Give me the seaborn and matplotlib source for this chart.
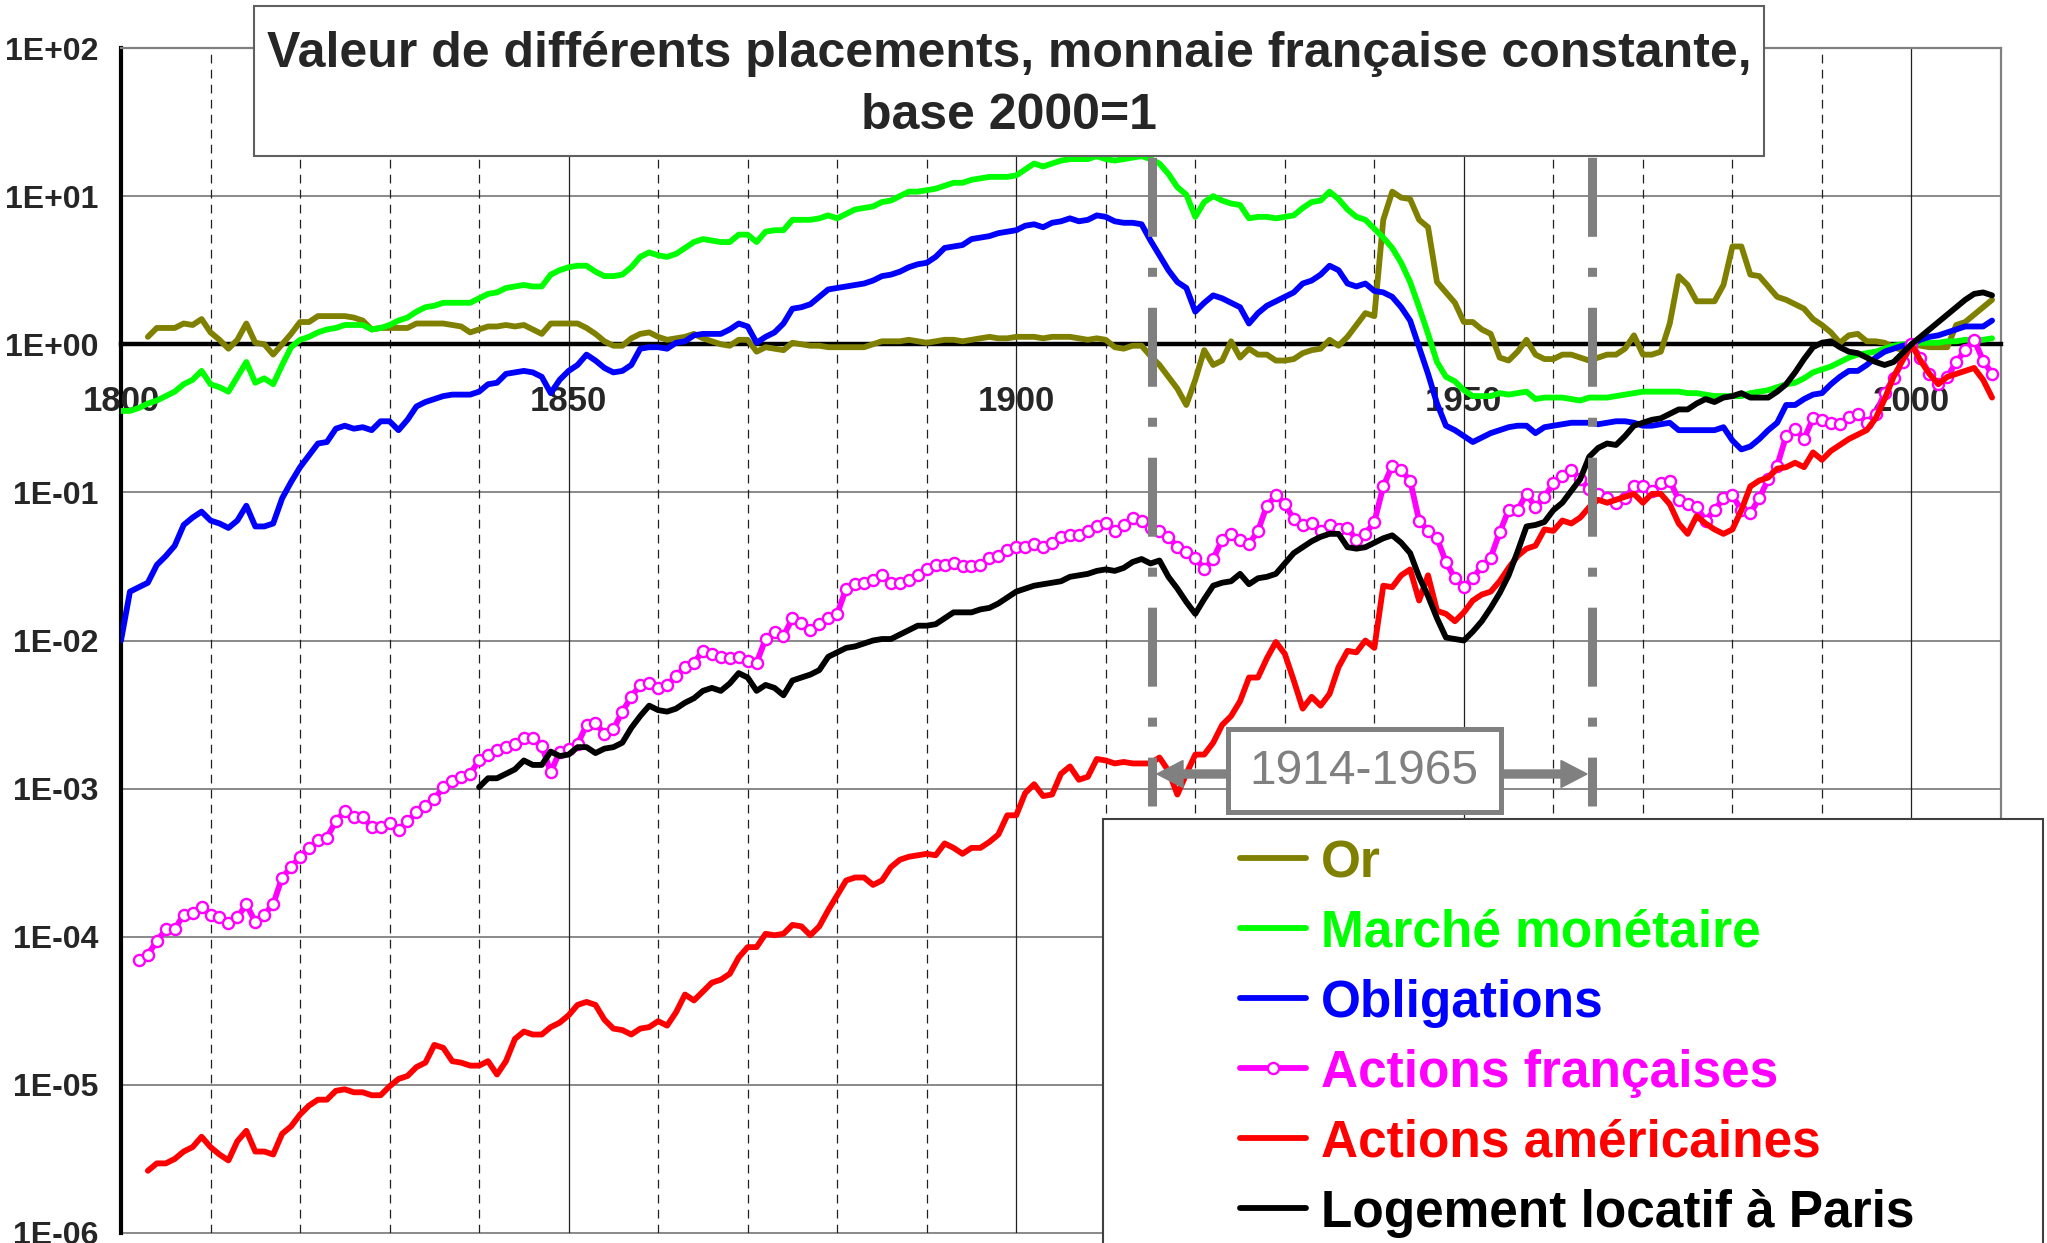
"""
Valeur de différents placements, monnaie française constante, base 2000=1.
Log-scale comparison of six asset classes, 1800-2009.
"""
import numpy as np
import pandas as pd
import matplotlib
matplotlib.use("Agg")
import matplotlib.pyplot as plt
import seaborn as sns
from matplotlib.patches import Rectangle, FancyArrow
from matplotlib.lines import Line2D
from matplotlib.ticker import NullLocator

# ---------------------------------------------------------------------------
# data: one value per year, kept as log10(value)
# (base 2000 = 1  ->  0.00)
# ---------------------------------------------------------------------------
OR_START = 1803
or_log10 = [
    0.05, 0.11, 0.11, 0.11, 0.14, 0.13, 0.17,                          # 1803-09
    0.08, 0.03, -0.03, 0.03, 0.14, 0.01, 0.00, -0.07, 0.00, 0.07,      # 1810s
    0.15, 0.15, 0.19, 0.19, 0.19, 0.19, 0.18, 0.16, 0.10, 0.11,        # 1820s
    0.11, 0.11, 0.11, 0.14, 0.14, 0.14, 0.14, 0.13, 0.12, 0.08,        # 1830s
    0.10, 0.12, 0.12, 0.13, 0.12, 0.13, 0.10, 0.07, 0.14, 0.14,        # 1840s
    0.14, 0.14, 0.11, 0.07, 0.02, -0.01, -0.01, 0.04, 0.07, 0.08,      # 1850s
    0.05, 0.03, 0.04, 0.05, 0.07, 0.04, 0.02, 0.00, -0.01, 0.03,       # 1860s
    0.03, -0.05, -0.02, -0.03, -0.04, 0.01, 0.00, -0.01, -0.01, -0.02, # 1870s
    -0.02, -0.02, -0.02, -0.02, 0.00, 0.02, 0.02, 0.02, 0.03, 0.02,    # 1880s
    0.01, 0.02, 0.03, 0.03, 0.02, 0.03, 0.04, 0.05, 0.04, 0.04,        # 1890s
    0.05, 0.05, 0.05, 0.04, 0.05, 0.05, 0.05, 0.04, 0.03, 0.04,        # 1900s
    0.03, -0.02, -0.03, -0.01, -0.01, -0.08, -0.14, -0.22, -0.30, -0.41,  # 1910s
    -0.24, -0.04, -0.14, -0.11, 0.02, -0.09, -0.03, -0.07, -0.07, -0.11,  # 1920s
    -0.11, -0.10, -0.06, -0.04, -0.03, 0.03, -0.01, 0.05, 0.13, 0.21,  # 1930s
    0.19, 0.84, 1.03, 0.99, 0.98, 0.84, 0.79, 0.42, 0.35, 0.28,        # 1940s
    0.15, 0.15, 0.10, 0.07, -0.09, -0.11, -0.05, 0.03, -0.07, -0.10,   # 1950s
    -0.10, -0.07, -0.07, -0.09, -0.11, -0.09, -0.07, -0.07, -0.03, 0.06,  # 1960s
    -0.07, -0.07, -0.05, 0.14, 0.46, 0.40, 0.29, 0.29, 0.29, 0.40,     # 1970s
    0.66, 0.66, 0.47, 0.46, 0.39, 0.32, 0.30, 0.27, 0.24, 0.17,        # 1980s
    0.13, 0.08, 0.01, 0.06, 0.07, 0.02, 0.02, 0.01, -0.02, -0.04,      # 1990s
    0.00, -0.01, -0.02, -0.02, -0.02, 0.13, 0.15, 0.20, 0.25, 0.30,    # 2000s
]

MM_START = 1800
mm_log10 = [
    -0.45, -0.45, -0.43, -0.40, -0.38, -0.35, -0.32, -0.27, -0.24, -0.18,
    -0.27, -0.29, -0.32, -0.22, -0.12, -0.26, -0.23, -0.27, -0.14, -0.02,
    0.03, 0.05, 0.08, 0.10, 0.11, 0.13, 0.13, 0.13, 0.10, 0.11,
    0.13, 0.16, 0.18, 0.22, 0.25, 0.26, 0.28, 0.28, 0.28, 0.28,
    0.31, 0.34, 0.35, 0.38, 0.39, 0.40, 0.39, 0.39, 0.47, 0.50,
    0.52, 0.53, 0.53, 0.49, 0.46, 0.46, 0.47, 0.52, 0.59, 0.62,
    0.60, 0.59, 0.61, 0.65, 0.69, 0.71, 0.70, 0.69, 0.69, 0.74,
    0.74, 0.69, 0.76, 0.77, 0.77, 0.84, 0.84, 0.84, 0.85, 0.87,
    0.85, 0.88, 0.91, 0.92, 0.93, 0.96, 0.97, 1.00, 1.03, 1.03,
    1.04, 1.05, 1.07, 1.09, 1.09, 1.11, 1.12, 1.13, 1.13, 1.13,
    1.14, 1.18, 1.22, 1.20, 1.22, 1.24, 1.25, 1.25, 1.25, 1.27,
    1.25, 1.24, 1.25, 1.26, 1.27, 1.25, 1.22, 1.15, 1.06, 1.01,
    0.86, 0.96, 1.00, 0.97, 0.95, 0.94, 0.85, 0.86, 0.86, 0.85,
    0.86, 0.87, 0.92, 0.96, 0.97, 1.03, 0.98, 0.91, 0.86, 0.84,
    0.78, 0.72, 0.65, 0.55, 0.42, 0.25, 0.07, -0.12, -0.22, -0.25,
    -0.31, -0.35, -0.35, -0.35, -0.33, -0.34, -0.33, -0.32, -0.37, -0.36,
    -0.36, -0.36, -0.37, -0.38, -0.36, -0.36, -0.36, -0.35, -0.34, -0.33,
    -0.32, -0.32, -0.32, -0.32, -0.32, -0.33, -0.33, -0.34, -0.35, -0.35,
    -0.35, -0.35, -0.33, -0.32, -0.31, -0.29, -0.27, -0.26, -0.23, -0.19,
    -0.17, -0.15, -0.12, -0.09, -0.07, -0.06, -0.05, -0.03, -0.01, 0.00,
    0.00, 0.01, 0.01, 0.01, 0.02, 0.02, 0.03, 0.03, 0.03, 0.04,
]

OBL_START = 1800
obl_log10 = [
    -2.00, -1.67, -1.64, -1.61, -1.49, -1.43, -1.36, -1.22, -1.17, -1.13,
    -1.19, -1.21, -1.24, -1.19, -1.09, -1.23, -1.23, -1.21, -1.04, -0.93,
    -0.83, -0.75, -0.67, -0.66, -0.57, -0.55, -0.57, -0.56, -0.58, -0.52,
    -0.52, -0.58, -0.51, -0.42, -0.39, -0.37, -0.35, -0.34, -0.34, -0.34,
    -0.32, -0.27, -0.26, -0.20, -0.19, -0.18, -0.19, -0.22, -0.33, -0.24,
    -0.18, -0.14, -0.07, -0.11, -0.16, -0.19, -0.18, -0.14, -0.03, -0.02,
    -0.02, -0.03, 0.01, 0.02, 0.06, 0.07, 0.07, 0.07, 0.10, 0.14,
    0.12, 0.01, 0.05, 0.08, 0.14, 0.24, 0.25, 0.27, 0.32, 0.37,
    0.38, 0.39, 0.40, 0.41, 0.43, 0.46, 0.47, 0.49, 0.52, 0.54,
    0.55, 0.59, 0.65, 0.66, 0.67, 0.71, 0.72, 0.73, 0.75, 0.76,
    0.77, 0.80, 0.81, 0.79, 0.82, 0.83, 0.85, 0.83, 0.84, 0.87,
    0.86, 0.83, 0.82, 0.82, 0.81, 0.70, 0.60, 0.50, 0.42, 0.38,
    0.22, 0.28, 0.33, 0.31, 0.28, 0.25, 0.14, 0.21, 0.26, 0.29,
    0.32, 0.35, 0.41, 0.43, 0.47, 0.53, 0.50, 0.41, 0.39, 0.41,
    0.36, 0.35, 0.32, 0.25, 0.16, -0.02, -0.20, -0.40, -0.55, -0.58,
    -0.62, -0.66, -0.63, -0.60, -0.58, -0.56, -0.55, -0.55, -0.60, -0.56,
    -0.55, -0.54, -0.53, -0.53, -0.53, -0.54, -0.53, -0.52, -0.52, -0.53,
    -0.55, -0.55, -0.54, -0.53, -0.58, -0.58, -0.58, -0.58, -0.58, -0.56,
    -0.65, -0.71, -0.69, -0.64, -0.58, -0.53, -0.41, -0.41, -0.37, -0.34,
    -0.33, -0.27, -0.22, -0.18, -0.18, -0.14, -0.09, -0.05, -0.03, -0.01,
    0.00, 0.03, 0.05, 0.06, 0.08, 0.10, 0.12, 0.12, 0.12, 0.16,
]

AF_START = 1802
af_log10 = [
    -4.16, -4.12, -4.03, -3.95, -3.95, -3.85, -3.84, -3.80,            # 1802-09
    -3.85, -3.87, -3.91, -3.87, -3.78, -3.90, -3.85, -3.78, -3.60, -3.53,
    -3.46, -3.40, -3.35, -3.33, -3.22, -3.15, -3.19, -3.19, -3.26, -3.26,
    -3.23, -3.28, -3.22, -3.16, -3.12, -3.07, -2.99, -2.95, -2.92, -2.90,
    -2.81, -2.77, -2.74, -2.72, -2.70, -2.66, -2.66, -2.71, -2.89, -2.75,
    -2.73, -2.70, -2.57, -2.56, -2.63, -2.60, -2.48, -2.38, -2.30, -2.29,
    -2.32, -2.30, -2.24, -2.18, -2.15, -2.07, -2.09, -2.11, -2.12, -2.11,
    -2.14, -2.15, -1.99, -1.94, -1.97, -1.85, -1.88, -1.93, -1.89, -1.85,
    -1.82, -1.65, -1.62, -1.61, -1.59, -1.56, -1.61, -1.61, -1.59, -1.56,
    -1.52, -1.49, -1.49, -1.48, -1.50, -1.50, -1.49, -1.44, -1.43, -1.39,
    -1.37, -1.37, -1.35, -1.37, -1.34, -1.30, -1.29, -1.29, -1.26, -1.23,
    -1.21, -1.26, -1.22, -1.17, -1.19, -1.24, -1.26, -1.30, -1.37, -1.40,
    -1.44, -1.52, -1.45, -1.32, -1.28, -1.32, -1.35, -1.26, -1.09, -1.02,
    -1.08, -1.18, -1.22, -1.21, -1.26, -1.22, -1.25, -1.24, -1.32, -1.28,
    -1.20, -0.96, -0.82, -0.85, -0.92, -1.19, -1.26, -1.31, -1.47, -1.58,
    -1.64, -1.58, -1.50, -1.44, -1.27, -1.12, -1.12, -1.01, -1.10, -1.03,
    -0.94, -0.89, -0.85, -0.91, -0.98, -1.01, -1.04, -1.07, -1.04, -0.96,
    -0.96, -0.99, -0.94, -0.92, -1.05, -1.08, -1.10, -1.19, -1.12, -1.04,
    -1.02, -1.12, -1.14, -1.04, -0.91, -0.82, -0.62, -0.57, -0.64, -0.50,
    -0.51, -0.53, -0.54, -0.49, -0.47, -0.53, -0.47, -0.33, -0.23, -0.12,
    0.00, -0.09, -0.20, -0.27, -0.22, -0.12, -0.04, 0.03, -0.11, -0.20,
]

AA_START = 1803
aa_log10 = [
    -5.58, -5.53, -5.53, -5.50, -5.45, -5.42, -5.35,                   # 1803-09
    -5.42, -5.47, -5.51, -5.38, -5.31, -5.45, -5.45, -5.47, -5.33, -5.28,
    -5.20, -5.14, -5.10, -5.10, -5.04, -5.03, -5.05, -5.05, -5.07, -5.07,
    -5.01, -4.96, -4.94, -4.88, -4.85, -4.73, -4.75, -4.84, -4.85, -4.87,
    -4.87, -4.84, -4.93, -4.84, -4.69, -4.64, -4.66, -4.66, -4.61, -4.58,
    -4.53, -4.46, -4.44, -4.46, -4.56, -4.62, -4.63, -4.66, -4.62, -4.61,
    -4.57, -4.60, -4.51, -4.39, -4.43, -4.37, -4.31, -4.29, -4.25, -4.14,
    -4.07, -4.07, -3.98, -3.99, -3.98, -3.92, -3.93, -3.99, -3.93, -3.82,
    -3.72, -3.62, -3.60, -3.60, -3.65, -3.62, -3.53, -3.48, -3.46, -3.45,
    -3.44, -3.45, -3.37, -3.40, -3.44, -3.40, -3.40, -3.36, -3.31, -3.18,
    -3.18, -3.03, -2.97, -3.05, -3.04, -2.90, -2.85, -2.94, -2.92, -2.80,
    -2.81, -2.83, -2.82, -2.83, -2.83, -2.83, -2.79, -2.88, -3.04, -2.90,
    -2.77, -2.77, -2.69, -2.57, -2.51, -2.41, -2.25, -2.25, -2.12, -2.01,
    -2.09, -2.27, -2.46, -2.38, -2.44, -2.36, -2.18, -2.07, -2.08, -2.00,
    -2.05, -1.63, -1.64, -1.56, -1.52, -1.73, -1.56, -1.80, -1.82, -1.87,
    -1.81, -1.73, -1.69, -1.67, -1.60, -1.51, -1.43, -1.38, -1.36, -1.25,
    -1.26, -1.19, -1.21, -1.17, -1.10, -1.05, -1.07, -1.05, -1.03, -1.01,
    -1.07, -1.01, -1.01, -1.08, -1.21, -1.28, -1.16, -1.21, -1.25, -1.28,
    -1.25, -1.12, -0.96, -0.92, -0.90, -0.84, -0.83, -0.80, -0.83, -0.73,
    -0.78, -0.72, -0.68, -0.64, -0.61, -0.58, -0.50, -0.37, -0.22, -0.11,
    0.00, -0.11, -0.20, -0.27, -0.22, -0.20, -0.18, -0.16, -0.24, -0.36,
]

LOG_START = 1840
log_log10 = [
    -2.99, -2.93, -2.93, -2.90, -2.87, -2.81, -2.84, -2.84, -2.75, -2.78,
    -2.77, -2.72, -2.72, -2.76, -2.73, -2.72, -2.69, -2.59, -2.51, -2.44,
    -2.47, -2.48, -2.46, -2.42, -2.39, -2.34, -2.32, -2.34, -2.29, -2.22,
    -2.25, -2.34, -2.30, -2.32, -2.37, -2.27, -2.25, -2.23, -2.20, -2.11,
    -2.08, -2.05, -2.04, -2.02, -2.00, -1.99, -1.99, -1.96, -1.93, -1.90,
    -1.90, -1.89, -1.85, -1.81, -1.81, -1.81, -1.79, -1.78, -1.75, -1.71,
    -1.67, -1.65, -1.63, -1.62, -1.61, -1.60, -1.57, -1.56, -1.55, -1.53,
    -1.52, -1.53, -1.51, -1.47, -1.45, -1.48, -1.46, -1.57, -1.65, -1.74,
    -1.82, -1.72, -1.63, -1.61, -1.60, -1.55, -1.62, -1.58, -1.57, -1.55,
    -1.48, -1.41, -1.37, -1.33, -1.30, -1.28, -1.28, -1.37, -1.38, -1.37,
    -1.34, -1.31, -1.29, -1.34, -1.41, -1.57, -1.70, -1.85, -1.98, -1.99,
    -2.00, -1.94, -1.87, -1.78, -1.68, -1.56, -1.40, -1.23, -1.22, -1.20,
    -1.12, -1.07, -0.99, -0.91, -0.76, -0.70, -0.67, -0.68, -0.62, -0.55,
    -0.53, -0.51, -0.50, -0.47, -0.44, -0.44, -0.40, -0.37, -0.39, -0.36,
    -0.35, -0.33, -0.36, -0.36, -0.36, -0.32, -0.27, -0.19, -0.10, -0.02,
    0.01, 0.02, -0.02, -0.05, -0.06, -0.09, -0.12, -0.14, -0.12, -0.06,
    0.00, 0.05, 0.10, 0.15, 0.20, 0.25, 0.30, 0.34, 0.35, 0.33,
]

SERIES_NAMES = ["Or", "Marché monétaire", "Obligations", "Actions françaises",
                "Actions américaines", "Logement locatif à Paris"]
SERIES_COLORS = ["#808000", "#00FF00", "#0000FF", "#FF00FF", "#FF0000", "#000000"]
SERIES_MARKERS = [None, None, None, "o", None, None]
SERIES_STARTS = [OR_START, MM_START, OBL_START, AF_START, AA_START, LOG_START]
SERIES_LOGS = [or_log10, mm_log10, obl_log10, af_log10, aa_log10, log_log10]

TITLE_LINES = ["Valeur de différents placements, monnaie française constante,",
               "base 2000=1"]
X_TICKS = [1800, 1850, 1900, 1950, 2000]
Y_TICKS = [1e-6, 1e-5, 1e-4, 1e-3, 1e-2, 1e-1, 1e0, 1e1, 1e2]
Y_TICK_LABELS = ["1E-06", "1E-05", "1E-04", "1E-03", "1E-02", "1E-01",
                 "1E+00", "1E+01", "1E+02"]
PERIOD_LABEL = "1914-1965"
PERIOD_LINES = [1915.2, 1964.3]   # where the two dash-dot markers sit

# ---------------------------------------------------------------------------
frames = []
for name, start, logs in zip(SERIES_NAMES, SERIES_STARTS, SERIES_LOGS):
    yrs = np.arange(start, start + len(logs))
    if yrs[-1] != 2009:
        raise ValueError(f"{name}: {len(logs)} values, ends {yrs[-1]}")
    frames.append(pd.DataFrame({"annee": yrs, "valeur": np.power(10.0, logs),
                                "serie": name}))
df = pd.concat(frames, ignore_index=True)

sns.set_style("white")
plt.rcParams["font.family"] = ["Liberation Sans", "DejaVu Sans"]

W, H = 2047, 1243
fx = lambda px: px / W          # pixel -> figure fraction
fy = lambda py: 1 - py / H

fig = plt.figure(figsize=(W / 100, H / 100), dpi=100)
fig.patch.set_facecolor("white")
ax = fig.add_axes([fx(121), fy(1233), fx(2001) - fx(121), fy(48) - fy(1233)])

LW = 4.2
for name, color, marker in zip(SERIES_NAMES, SERIES_COLORS, SERIES_MARKERS):
    sub = df[df.serie == name]
    kw = {}
    if marker:
        kw = dict(marker=marker, markersize=8, markerfacecolor="white",
                  markeredgecolor=color, markeredgewidth=1.7)
    sns.lineplot(data=sub, x="annee", y="valeur", ax=ax, color=color, lw=LW,
                 errorbar=None, legend=False, zorder=3,
                 solid_joinstyle="round", **kw)

ax.set_yscale("log")
ax.set_xlim(1800, 2010)
ax.set_ylim(1e-6, 1e2)
ax.set_xlabel("")
ax.set_ylabel("")
ax.set_axisbelow(False)

# grid drawn by hand so it stays under the series while tick labels stay on top
for v in Y_TICKS:
    ax.axhline(v, color="#808080", lw=1.3, zorder=0.5, clip_on=False)
for yr in range(1810, 2010, 10):
    if yr % 50 == 0:
        ax.axvline(yr, color="#202020", lw=0.9, zorder=0.5)
    else:
        ax.axvline(yr, color="#202020", lw=0.9, ls=(0, (7, 5)), zorder=0.5)

ax.spines["bottom"].set_position(("data", 1.0))
ax.spines["bottom"].set_color("black")
ax.spines["bottom"].set_linewidth(3.2)
ax.spines["left"].set_color("black")
ax.spines["left"].set_linewidth(3.0)
for s in ("top", "right"):
    ax.spines[s].set_color("#808080")
    ax.spines[s].set_linewidth(1.6)

ax.set_xticks(X_TICKS)
ax.set_xticklabels([str(t) for t in X_TICKS])
ax.set_yticks(Y_TICKS)
ax.set_yticklabels(Y_TICK_LABELS)
ax.yaxis.set_minor_locator(NullLocator())
ax.xaxis.set_minor_locator(NullLocator())
ax.tick_params(axis="x", direction="out", length=8, width=2.2, color="black",
               pad=21, labelsize=25)
ax.tick_params(axis="y", direction="out", length=7.5, width=3, color="black",
               pad=9, labelsize=23)
for lbl in ax.get_xticklabels() + ax.get_yticklabels():
    lbl.set_fontweight("bold")

# 1914 / 1965 dash-dot markers
line_end = 7.6e-4
for yr in PERIOD_LINES:
    ln, = ax.plot([yr, yr], [1e2, line_end], color="#808080", lw=6.5, zorder=4,
                  solid_capstyle="butt")
    ln.set_linestyle((4.5, (8.75, 3.43, 1.0, 3.43)))
    ln.set_dash_capstyle("butt")

# period box and arrows (figure pixel layout)
GREY = "#808080"
fig.add_artist(Rectangle((fx(1228), fy(812)), fx(1501) - fx(1228), fy(729) - fy(812),
                         transform=fig.transFigure, facecolor="white",
                         edgecolor=GREY, lw=3.6, zorder=15))
fig.text(fx(1364), fy(772), PERIOD_LABEL, color=GREY, fontsize=34.5,
         ha="center", va="center", zorder=16)
ay = fy(774)
fig.add_artist(FancyArrow(fx(1227), ay, fx(1157) - fx(1227), 0,
                          width=8 / H, head_width=27 / H, head_length=26 / W,
                          length_includes_head=True, color=GREY,
                          transform=fig.transFigure, zorder=15))
fig.add_artist(FancyArrow(fx(1502), ay, fx(1587) - fx(1502), 0,
                          width=8 / H, head_width=27 / H, head_length=26 / W,
                          length_includes_head=True, color=GREY,
                          transform=fig.transFigure, zorder=15))

# title box
fig.add_artist(Rectangle((fx(254), fy(156)), fx(1764) - fx(254), fy(6) - fy(156),
                         transform=fig.transFigure, facecolor="white",
                         edgecolor="#606060", lw=1.5, zorder=20))
fig.text(fx(1009), fy(67), TITLE_LINES[0], fontsize=36, fontweight="bold",
         ha="center", va="baseline", zorder=21)
fig.text(fx(1009), fy(129), TITLE_LINES[1], fontsize=36, fontweight="bold",
         ha="center", va="baseline", zorder=21)

# legend box (runs off the bottom-right of the picture)
fig.add_artist(Rectangle((fx(1103), fy(1300)), fx(2043) - fx(1103), fy(819) - fy(1300),
                         transform=fig.transFigure, facecolor="white",
                         edgecolor="#404040", lw=1.5, zorder=20))
for i, (name, color, marker) in enumerate(zip(SERIES_NAMES, SERIES_COLORS, SERIES_MARKERS)):
    yc = 858 + 69.9 * i
    fig.add_artist(Line2D([fx(1240), fx(1306)], [fy(yc), fy(yc)], color=color,
                          lw=LW, transform=fig.transFigure, zorder=21))
    if marker:
        fig.add_artist(Line2D([fx(1273)], [fy(yc)], marker=marker, ls="none",
                              markersize=8, markerfacecolor="white",
                              markeredgecolor=color, markeredgewidth=1.7,
                              transform=fig.transFigure, zorder=22))
    fig.text(fx(1321), fy(yc + 19), name, color=color, fontsize=37,
             fontweight="bold", ha="left", va="baseline", zorder=22)

fig.savefig("out.png", dpi=100, facecolor="white")
